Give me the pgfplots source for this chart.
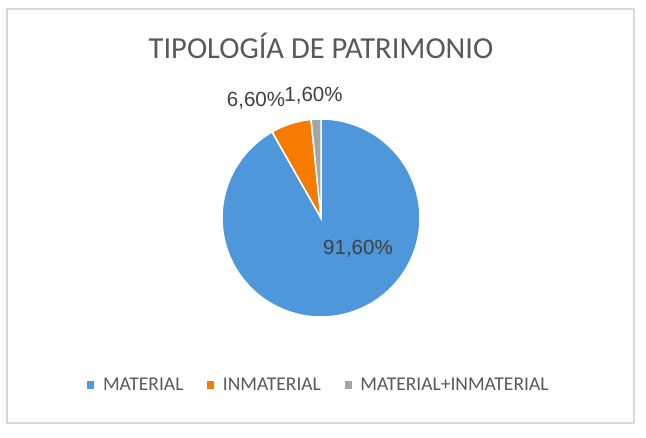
\documentclass[border=0pt]{standalone}
\usepackage{pgfplots}
\pgfplotsset{compat=1.18}
\usepackage{fontspec}
\setmainfont{Carlito}
\newfontfamily\lab{Liberation Sans}
\definecolor{cblue}{HTML}{4E97DA}
\definecolor{corange}{HTML}{F67B00}
\definecolor{cgrey}{HTML}{A5A5A5}
\definecolor{ctitle}{HTML}{595959}
\definecolor{clab}{HTML}{404040}
\definecolor{cframe}{HTML}{D9D9D9}
% shares (percent)
\def\pA{91.6}
\def\pB{6.6}
\def\pC{1.6}
\pgfmathsetmacro\tot{\pA+\pB+\pC}
\pgfmathsetmacro\aA{90-(\pA/\tot)*360}
\pgfmathsetmacro\aB{\aA-(\pB/\tot)*360}
\pgfmathsetmacro\aC{\aB-(\pC/\tot)*360}
\def\cx{321}
\def\cy{219}
\def\r{99}
\begin{document}
\begin{tikzpicture}
\begin{axis}[
  width=646pt, height=437pt, scale only axis,
  xmin=0, xmax=646, ymin=0, ymax=437,
  hide axis, clip=false,
  legend columns=3,
  legend style={draw=none, fill=none, at={(axis cs:318.5,52)}, anchor=center,
    font=\fontsize{19.5}{22}\selectfont, text=ctitle,
    /tikz/every even column/.append style={column sep=21pt},
    cells={anchor=west}},
  legend image code/.code={\fill[#1, draw=none] (0pt,-3.6pt) rectangle (7.2pt,3.6pt); \path (0pt,0pt) (13pt,0pt);},
]
\fill[white] (axis cs:0,0) rectangle (axis cs:646,437);
\draw[cframe, line width=1.8pt] (axis cs:7,14) rectangle (axis cs:634,428);
\addplot[fill=cblue, draw=white, line width=1.5pt, domain=\aA:90, samples=120]
  ({\cx+\r*cos(x)},{\cy+\r*sin(x)}) -- (axis cs:\cx,\cy) -- cycle;
\addlegendentry{MATERIAL}
\addplot[fill=corange, draw=white, line width=1.5pt, domain=\aB:\aA, samples=30]
  ({\cx+\r*cos(x)},{\cy+\r*sin(x)}) -- (axis cs:\cx,\cy) -- cycle;
\addlegendentry{INMATERIAL}
\addplot[fill=cgrey, draw=white, line width=1.5pt, domain=\aC:\aB, samples=10]
  ({\cx+\r*cos(x)},{\cy+\r*sin(x)}) -- (axis cs:\cx,\cy) -- cycle;
\addlegendentry{MATERIAL+INMATERIAL}
\node[anchor=base, text=ctitle, font=\fontsize{30.5}{34}\selectfont, inner sep=0pt] at (axis cs:321,378.7) {TIPOLOGÍA DE PATRIMONIO};
\node[anchor=base, text=clab, font=\lab\fontsize{20.5}{24}\selectfont, inner sep=0pt] at (axis cs:358,182) {91,60\%};
\node[anchor=base, text=clab, font=\lab\fontsize{20.5}{24}\selectfont, inner sep=0pt] at (axis cs:256,330) {6,60\%};
\node[anchor=base, text=clab, font=\lab\fontsize{20.5}{24}\selectfont, inner sep=0pt] at (axis cs:313.5,335) {1,60\%};
\end{axis}
\end{tikzpicture}
\end{document}
